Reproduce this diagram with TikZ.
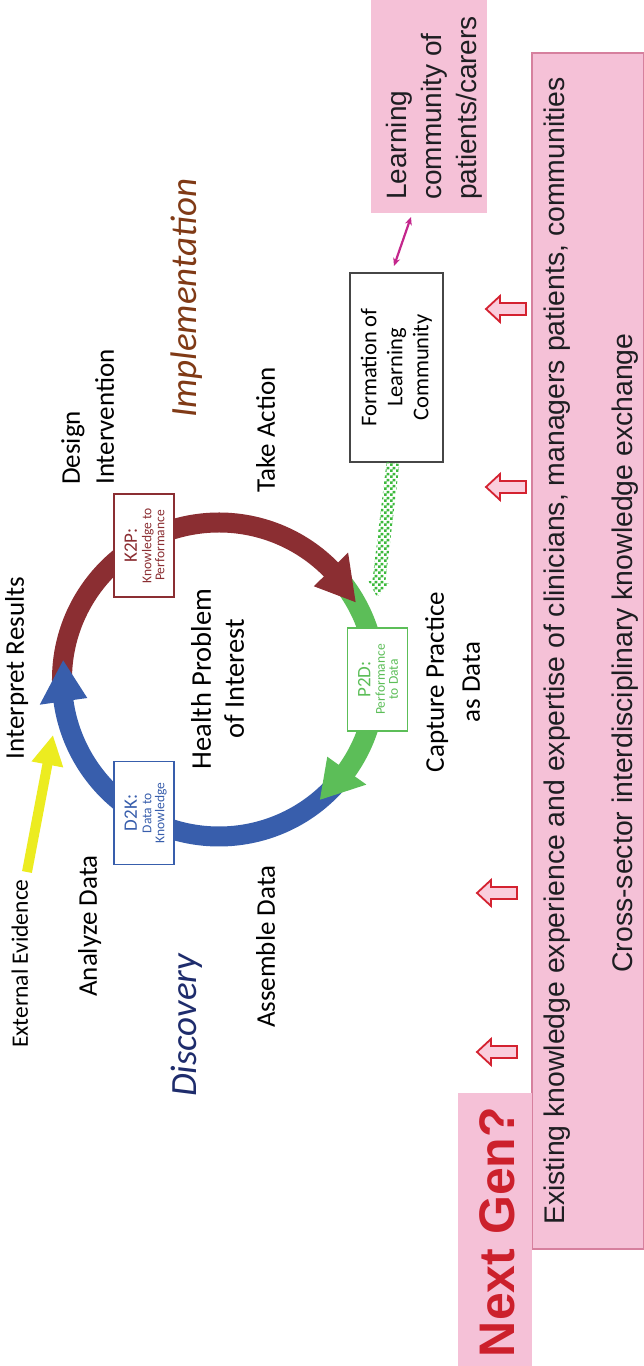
\documentclass[tikz,border=0pt]{standalone}
\usepackage{fontspec}
\setmainfont{Carlito}
\newfontfamily\arialfont{Liberation Sans}
\usetikzlibrary{arrows.meta,patterns}

\definecolor{ringred}{RGB}{139,46,50}
\definecolor{ringblue}{RGB}{56,94,172}
\definecolor{ringgreen}{RGB}{92,190,88}
\definecolor{bandpink}{RGB}{245,193,215}
\definecolor{bandedge}{RGB}{214,128,158}
\definecolor{bandink}{RGB}{30,30,34}
\definecolor{gentext}{RGB}{204,32,44}
\definecolor{implbrown}{RGB}{128,58,22}
\definecolor{discnavy}{RGB}{30,44,108}
\definecolor{evyellow}{RGB}{236,236,32}
\definecolor{linkmagenta}{RGB}{196,38,140}
\definecolor{hollowred}{RGB}{212,34,48}
\definecolor{hollowfill}{RGB}{250,205,220}
\definecolor{checkgreen}{RGB}{60,185,60}
\definecolor{boxgray}{RGB}{70,70,70}

\newcommand{\sizedfont}[1]{\fontsize{#1}{#1}\selectfont}

% checkerboard with 3pt squares for the dotted feed arrow
\pgfdeclarepatternformonly{bigchecker}{\pgfqpoint{0pt}{0pt}}{\pgfqpoint{6pt}{6pt}}{\pgfqpoint{6pt}{6pt}}{%
  \pgfpathrectangle{\pgfqpoint{0pt}{0pt}}{\pgfqpoint{3pt}{3pt}}%
  \pgfpathrectangle{\pgfqpoint{3pt}{3pt}}{\pgfqpoint{3pt}{3pt}}%
  \pgfusepath{fill}}

\begin{document}
\begin{tikzpicture}[x=1pt, y=1pt, rotate=90, transform shape,
  panel/.style={fill=bandpink, inner sep=0pt, outer sep=0pt},
  word/.style={inner sep=0pt, font=\sizedfont{27}},
  band text/.style={inner sep=0pt, text=bandink, font=\arialfont\sizedfont{28.4}},
  ring box/.style={draw=#1, fill=white, line width=1.4pt, minimum width=103pt, minimum height=60pt, inner sep=0pt},
  ring big/.style={inner sep=0pt, anchor=base, text=#1, font=\sizedfont{19}},
  ring small/.style={inner sep=0pt, anchor=base, text=#1, font=\sizedfont{13.5}},
  hollowup/.pic={\draw[hollowred, fill=hollowfill, line width=1.8pt, line join=miter]
      (-6,0) -- (-6,26) -- (-13,26) -- (0,40) -- (13,26) -- (6,26) -- (6,0) -- cycle;}
]
\useasboundingbox (0,0) rectangle (1366,644);
\fill[white] (0,0) rectangle (1366,644);

% knowledge-exchange band along the lower edge
\node[panel, draw=bandedge, line width=1.2pt, minimum width=1196pt, minimum height=112pt, anchor=south west] (band) at (117,0) {};
\node[panel, minimum width=273pt, minimum height=74pt, anchor=south west] (ng) at (0,112) {};
\node[inner sep=0pt, anchor=base, text=gentext, font=\arialfont\bfseries\sizedfont{50}] (ngt) at (134,129) {Next Gen?};
\node[band text, anchor=base west] (exist) at (141,79) {Existing knowledge experience and expertise of clinicians, managers patients, communities};
\node[band text, anchor=base] (cross) at (713,11) {Cross-sector interdisciplinary knowledge exchange};

% inputs rising from the band
\foreach \px/\py in {314/127, 473/127, 879/118, 1057/118} \pic at (\px,\py) {hollowup};

% learning community of patients and carers
\node[panel, minimum width=213pt, minimum height=116pt, anchor=south west] (lc) at (1153,157) {};
\node[inner sep=0pt, anchor=base west, text=bandink, font=\arialfont\sizedfont{28}] (lc1) at (1166,237) {Learning};
\node[inner sep=0pt, anchor=base west, text=bandink, font=\arialfont\sizedfont{28}] (lc2) at (1166,202) {community of};
\node[inner sep=0pt, anchor=base west, text=bandink, font=\arialfont\sizedfont{28}] (lc3) at (1166,167) {patients/carers};

% formation box and its links
\node[draw=boxgray, fill=white, line width=1.3pt, minimum width=189pt, minimum height=93pt, inner sep=0pt, align=center, font=\fontsize{22.5}{26}\selectfont] (fl) at (998.5,247.5) {Formation of\\Learning\\Community};
\coordinate (lk1) at (1149,233);
\coordinate (lk2) at (1100,250);
\draw[linkmagenta, line width=2.2pt, {Stealth[length=8pt,width=7pt]}-{Stealth[length=8pt,width=7pt]}] (lk1) -- (lk2);

\begin{scope}[shift={(903,251)}, rotate=173.2]
  \coordinate (gs) at (0,0);
  \coordinate (gt) at (135,0);
  \fill[pattern=bigchecker, pattern color=checkgreen]
    (gs) ++(0,-6.5) -- (120,-6.5) -- (120,-10.5) -- (gt) -- (120,10.5) -- (120,6.5) -- (0,6.5) -- cycle;
\end{scope}

% the cycle
\begin{scope}[shift={(686.5,425)}]
  \coordinate (c) at (0,0);
  \draw[ringgreen, line width=20pt] (-50:157) arc[start angle=-50, end angle=-126, radius=157];
  \draw[ringblue, line width=20pt] (228:157) arc[start angle=228, end angle=97, radius=157];
  \draw[ringred, line width=20pt] (93:157) arc[start angle=93, end angle=-46, radius=157];
  \fill[ringgreen] (-125.5:181) -- (-140:157) -- (-125.5:133) -- cycle;
  \fill[ringred] (-45.5:181) -- (-60.5:157) -- (-45.5:133) -- cycle;
  \fill[ringblue] (98:181) -- (83:157) -- (98:133) -- cycle;

  \node[ring box=ringred] (k2p) at (134,75) {};
  \node[ring big=ringred] (k2pa) at (134,82) {K2P:};
  \node[ring small=ringred] (k2pb) at (134,67.5) {Knowledge to};
  \node[ring small=ringred] (k2pc) at (134,54.5) {Performance};

  \node[ring box=ringblue] (d2k) at (-133.5,75) {};
  \node[ring big=ringblue] (d2ka) at (-133.5,82) {D2K:};
  \node[ring small=ringblue] (d2kb) at (-133.5,67.5) {Data to};
  \node[ring small=ringblue] (d2kc) at (-133.5,54.5) {Knowledge};

  \node[ring box=ringgreen] (p2d) at (0,-158.5) {};
  \node[ring big=ringgreen] (p2da) at (0,-151.5) {P2D:};
  \node[ring small=ringgreen] (p2db) at (0,-166) {Performance};
  \node[ring small=ringgreen] (p2dc) at (0,-179) {to Data};
\end{scope}

% labels around the cycle
\node[word, anchor=base] (interp) at (698,620) {Interpret Results};
\node[word, anchor=base west] (des1) at (881,564) {Design};
\node[word, anchor=base west] (des2) at (881,530) {Intervention};
\node[word, anchor=base west] (act) at (873,369) {Take Action};
\node[word, anchor=base west] (anl) at (369,547) {Analyze Data};
\node[word, anchor=base west] (asm) at (338,369) {Assemble Data};
\node[word, anchor=base west, font=\sizedfont{23.5}] (ee) at (318,616) {External Evidence};
\node[word, anchor=base, font=\sizedfont{28.5}] (hp1) at (687,433) {Health Problem};
\node[word, anchor=base, font=\sizedfont{28.5}] (hp2) at (687,400) {of Interest};
\node[word, anchor=base] (cp1) at (684,200) {Capture Practice};
\node[word, anchor=base] (cp2) at (684,164) {as Data};
\node[word, anchor=base west, text=implbrown, font=\itshape\sizedfont{37}] (impl) at (948,447) {Implementation};
\node[word, anchor=base west, text=discnavy, font=\itshape\sizedfont{37}] (disc) at (269,447) {Discovery};

% external evidence feeding the cycle
\coordinate (ev0) at (494,617);
\coordinate (ev1) at (631,591);
\draw[evyellow, line width=10pt, -{Triangle[length=30pt,width=30pt]}] (ev0) -- (ev1);
\end{tikzpicture}
\end{document}
